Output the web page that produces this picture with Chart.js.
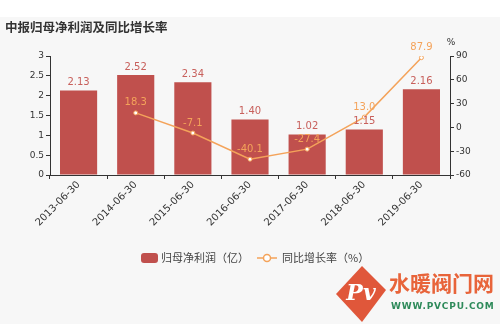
<!DOCTYPE html>
<html>
<head>
<meta charset="utf-8">
<script src="https://cdn.jsdelivr.net/npm/chart.js@4.4.1/dist/chart.umd.min.js"></script>
<style>
  html, body { margin: 0; padding: 0; background: #f7f7f7; }
  #box { width: 500px; height: 324px; position: relative; }
</style>
</head>
<body>
<div id="box"><canvas id="myChart" width="500" height="324"></canvas></div>
<script>
var categorias = ['2013-06-30', '2014-06-30', '2015-06-30', '2016-06-30', '2017-06-30', '2018-06-30', '2019-06-30'];
var lucro = [2.13, 2.52, 2.34, 1.40, 1.02, 1.15, 2.16];
var crescimento = [null, 18.3, -7.1, -40.1, -27.4, 13.0, 87.9];
var ticksEsq = [0, 0.5, 1, 1.5, 2, 2.5, 3];
var ticksDir = [-60, -30, 0, 30, 60, 90];

var fonte = '"Noto Sans CJK SC", "DejaVu Sans", sans-serif';
var fonteNum = '"DejaVu Sans", sans-serif';
var corBarra = '#c0504d';
var corLinha = '#f4a35a';

// fundo, titulo, rotulos, legenda e marca d'agua
var extras = {
    id: 'extras',
    beforeDraw: function (chart) {
        var c = chart.ctx;
        c.save();
        c.fillStyle = '#f7f7f7';
        c.fillRect(0, 0, chart.width, chart.height);
        c.fillStyle = '#ffffff';
        c.fillRect(0, 0, chart.width, 17);
        c.fillStyle = '#333333';
        c.font = 'bold 12.5px ' + fonte;
        c.textBaseline = 'middle';
        c.fillText('中报归母净利润及同比增长率', 5, 27);
        c.font = '9px ' + fonteNum;
        c.textAlign = 'center';
        c.fillText('%', 451, 43);
        c.restore();
    },
    afterDatasetsDraw: function (chart) {
        var c = chart.ctx;
        c.save();
        c.font = '10px ' + fonteNum;
        c.textAlign = 'center';
        c.textBaseline = 'bottom';
        var barras = chart.getDatasetMeta(0).data;
        c.fillStyle = '#c8605c';
        for (var i = 0; i < barras.length; i++) {
            c.fillText(lucro[i].toFixed(2), barras[i].x, barras[i].y - 3);
        }
        var pontos = chart.getDatasetMeta(1).data;
        c.fillStyle = corLinha;
        for (var j = 0; j < pontos.length; j++) {
            if (crescimento[j] === null) continue;
            c.fillText(crescimento[j].toFixed(1), pontos[j].x, pontos[j].y - 5);
        }

        // legenda
        var ly = 258;
        c.fillStyle = corBarra;
        c.beginPath();
        c.roundRect(141, ly - 5, 17, 10, 3);
        c.fill();
        c.fillStyle = '#444444';
        c.textAlign = 'left';
        c.textBaseline = 'middle';
        c.font = '11px ' + fonte;
        c.fillText('归母净利润（亿）', 161, ly);
        c.strokeStyle = corLinha;
        c.lineWidth = 1.5;
        c.beginPath();
        c.moveTo(257, ly);
        c.lineTo(277, ly);
        c.stroke();
        c.fillStyle = '#ffffff';
        c.beginPath();
        c.arc(267, ly, 3.5, 0, Math.PI * 2);
        c.fill();
        c.stroke();
        c.fillStyle = '#444444';
        c.fillText('同比增长率（%）', 282, ly);

        // marca
        c.fillStyle = '#e0573a';
        c.beginPath();
        c.moveTo(362, 266);
        c.lineTo(386, 290);
        c.lineTo(362, 322);
        c.lineTo(336, 294);
        c.closePath();
        c.fill();
        c.fillStyle = '#ffffff';
        c.font = 'italic bold 22px "DejaVu Serif", serif';
        c.textAlign = 'center';
        c.fillText('Pv', 361, 294);
        c.fillStyle = '#e8643a';
        c.font = 'bold 21px ' + fonte;
        c.textAlign = 'left';
        c.fillText('水暖阀门网', 389, 283);
        c.fillStyle = '#2e8a5a';
        c.font = 'bold 9px ' + fonteNum;
        c.letterSpacing = '0.8px';
        c.fillText('WWW.PVCPU.COM', 391, 307);
        c.restore();
    }
};

function semZero(v) { return String(v); }

var ctx = document.getElementById('myChart');
var myChart = new Chart(ctx, {
    type: 'bar',
    data: {
        labels: categorias,
        datasets: [{
            type: 'bar',
            label: '归母净利润（亿）',
            data: lucro,
            backgroundColor: corBarra,
            yAxisID: 'y',
            categoryPercentage: 0.65,
            barPercentage: 1,
            order: 2
        }, {
            type: 'line',
            label: '同比增长率（%）',
            data: crescimento,
            borderColor: corLinha,
            borderWidth: 1.5,
            backgroundColor: '#ffffff',
            pointRadius: 2,
            pointBorderWidth: 1,
            pointBorderColor: corLinha,
            pointBackgroundColor: '#ffffff',
            tension: 0,
            spanGaps: false,
            yAxisID: 'y1',
            order: 1
        }]
    },
    options: {
        responsive: false,
        animation: false,
        layout: { padding: { top: 56, left: 0, right: 0, bottom: 0 } },
        plugins: {
            legend: { display: false },
            tooltip: { enabled: false }
        },
        scales: {
            x: {
                grid: { display: true, drawOnChartArea: false, offset: true, tickLength: 4, color: '#333333' },
                border: { color: '#333333' },
                ticks: {
                    color: '#333333',
                    font: { size: 10, family: fonteNum },
                    maxRotation: 45,
                    minRotation: 45,
                    padding: 0
                },
                afterFit: function (scale) { scale.height = 149; }
            },
            y: {
                position: 'left',
                min: 0,
                max: 3,
                afterBuildTicks: function (scale) {
                    scale.ticks = ticksEsq.map(function (v) { return { value: v }; });
                },
                grid: { display: true, drawOnChartArea: false, tickLength: 4, color: '#333333' },
                border: { color: '#333333' },
                ticks: {
                    color: '#333333',
                    font: { size: 9, family: fonteNum },
                    padding: 2,
                    callback: semZero
                },
                afterFit: function (scale) { scale.width = 50; }
            },
            y1: {
                position: 'right',
                min: -60,
                max: 90,
                afterBuildTicks: function (scale) {
                    scale.ticks = ticksDir.map(function (v) { return { value: v }; });
                },
                grid: { display: true, drawOnChartArea: false, tickLength: 4, color: '#333333' },
                border: { color: '#333333' },
                ticks: {
                    color: '#333333',
                    font: { size: 9, family: fonteNum },
                    padding: 2,
                    callback: semZero
                },
                afterFit: function (scale) { scale.width = 50; }
            }
        }
    },
    plugins: [extras]
});
</script>
</body>
</html>
